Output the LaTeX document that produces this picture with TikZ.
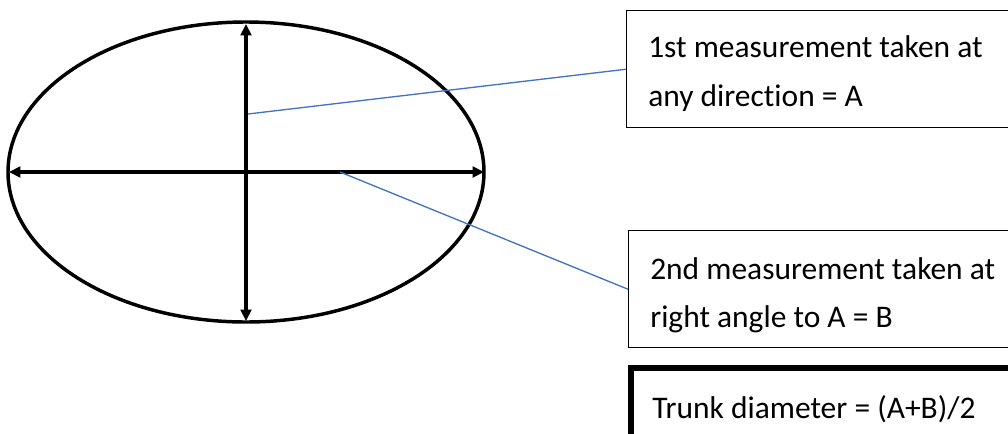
\documentclass[tikz,border=0pt]{standalone}
\usepackage{fontspec}
\setmainfont{Carlito}[Ligatures=NoCommon]
\usetikzlibrary{arrows.meta,shapes.geometric}
\definecolor{leaderblue}{HTML}{4472C4}
\begin{document}
\begin{tikzpicture}[x=0.75pt,y=-0.75pt,
  rim/.style={line width=2.6pt},
  axis/.style={line width=2.4pt,{Triangle[length=8.5pt,width=8pt]}-{Triangle[length=8.5pt,width=8pt]}},
  leader/.style={draw=leaderblue,line width=1pt},
  box/.style={draw,line width=1.1pt,anchor=north west,inner sep=0pt},
  thickbox/.style={draw,line width=4.8pt,anchor=north west,inner sep=0pt},
  lbl/.style={anchor=base west,inner sep=0pt,font=\fontsize{23.6pt}{28pt}\selectfont}]
\useasboundingbox (0,0) rectangle (1008,433);
\clip (0,0) rectangle (1008,433);
% trunk cross-section
\node[draw,rim,ellipse,minimum width=476*0.75pt,minimum height=300*0.75pt,inner sep=0pt] (trunk) at (246,172) {};
\coordinate (top) at (246,24);
\coordinate (bot) at (246,321);
\coordinate (lft) at (9,172);
\coordinate (rgt) at (484,172);
\draw[axis] (bot) -- (top);
\draw[axis] (lft) -- (rgt);
% boxes
\node[box,minimum height=117*0.75pt,minimum width=420*0.75pt] (boxA) at (626,10) {};
\node[box,minimum height=117*0.75pt,minimum width=420*0.75pt] (boxB) at (628,230) {};
\node[thickbox,minimum width=420*0.75pt,minimum height=120*0.75pt] (boxC) at (628,365) {};
% texts
\node[lbl] (a1) at (648,57) {1st measurement taken at};
\node[lbl] (a2) at (648,106) {any direction = A};
\node[lbl] (b1) at (650,279) {2nd measurement taken at};
\node[lbl] (b2) at (650,327) {right angle to A = B};
\node[lbl] (c1) at (652,418) {Trunk diameter = (A+B)/2};
% leaders
\coordinate (pA) at (248,114);
\coordinate (pB) at (340,172);
\draw[leader] (pA) -- (boxA.west);
\draw[leader] (pB) -- (boxB.west);
\end{tikzpicture}
\end{document}
